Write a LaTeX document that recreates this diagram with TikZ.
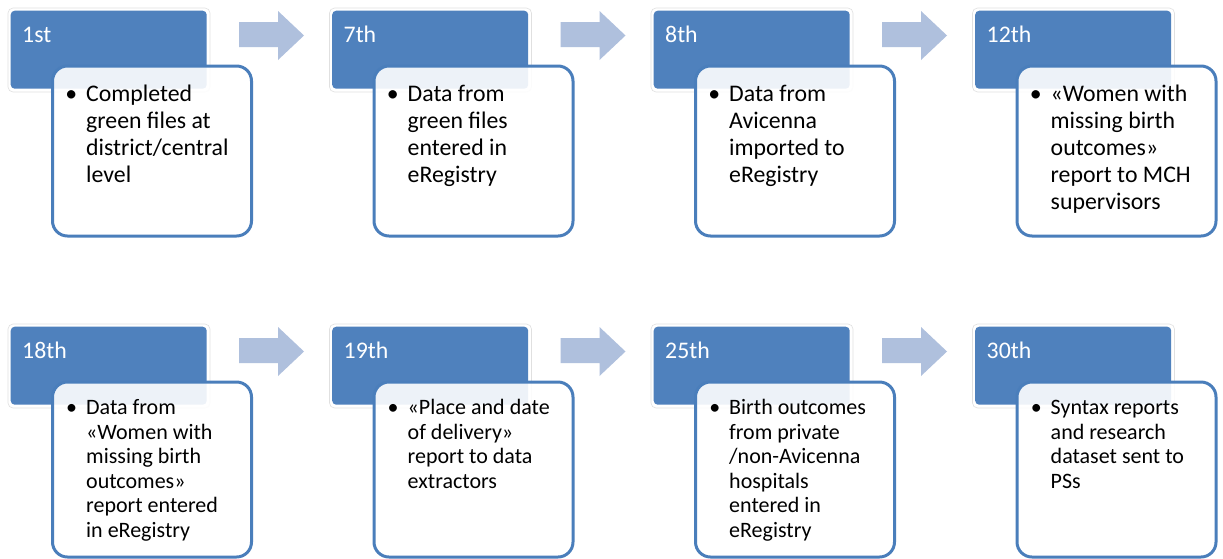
\documentclass[tikz,border=0pt]{standalone}
\usepackage{fontspec}
\setmainfont{Carlito}
\definecolor{hdr}{HTML}{4F81BD}
\definecolor{bord}{HTML}{4A7EBB}
\definecolor{arr}{HTML}{AFC0DD}
\tikzset{
  halo/.style={fill=white, draw=black!12, line width=0.6pt, rounded corners=5pt},
  hdrbox/.style={fill=hdr, draw=none, rounded corners=4pt, inner sep=0pt,
    minimum width=196pt, minimum height=78pt, anchor=north west},
  hdrlabel/.style={text=white, anchor=base west, inner sep=0pt, font=\fontsize{23.8}{27}\selectfont},
  bodybox/.style={fill=white, fill opacity=0.9, draw=bord, draw opacity=1, line width=3pt,
    rounded corners=15pt, inner sep=0pt, minimum width=199pt, anchor=north west},
  bodytext/.style={anchor=north west, align=left, inner sep=0pt, text=black},
  toptext/.style={bodytext, font=\fontsize{23.8}{27}\selectfont},
  bottext/.style={bodytext, font=\fontsize{22}{24.6}\selectfont},
  flowarrow/.style={fill=arr, draw=none},
}
\newcommand\bul{\strut\llap{\textbullet\hspace{9pt}}}
% #1 name, #2 ox, #3 oy, #4 label, #5 text style, #6 text top, #7 box height, #8 text
\newcommand\stage[8]{%
  \draw[halo] (#2+8,#3+8) rectangle (#2+210,#3+92);
  \node[hdrbox] (#1h) at (#2+10.5,#3+10.5) {};
  \node[hdrlabel] (#1l) at (#2+22,#3+42) {#4};
  \node[bodybox, minimum height=#7pt] (#1b) at (#2+51,#3+64.5) {};
  \node[#5] (#1t) at (#2+86,#3+#6) {\bul #8};
}
\newcommand\flowarr[2]{%
  \fill[flowarrow] (#1+239,#2+22) -- (#1+278,#2+22) -- (#1+278,#2+11) -- (#1+304,#2+35.5)
    -- (#1+278,#2+60) -- (#1+278,#2+47) -- (#1+239,#2+47) -- cycle;
}
\begin{document}
\begin{tikzpicture}[x=1pt,y=-1pt]
\useasboundingbox (0,0) rectangle (1223,558);
\fill[white] (0,0) rectangle (1223,558);
% top row
\stage{a}{0}{0}{1st}{toptext}{82}{170}{Completed\\green files at\\district/central\\level}
\stage{b}{321.5}{0}{7th}{toptext}{82}{170}{Data from\\green files\\entered in\\eRegistry}
\stage{c}{643}{0}{8th}{toptext}{82}{170}{Data from\\Avicenna\\imported to\\eRegistry}
\stage{d}{964.5}{0}{12th}{toptext}{82}{170}{«Women with\\missing birth\\outcomes»\\report to MCH\\supervisors}
\flowarr{0}{0}
\flowarr{321.5}{0}
\flowarr{643}{0}
% bottom row
\stage{e}{0}{316}{18th}{bottext}{81}{175}{Data from\\«Women with\\missing birth\\outcomes»\\report entered\\in eRegistry}
\stage{f}{321.5}{316}{19th}{bottext}{81}{175}{«Place and date\\of delivery»\\report to data\\extractors}
\stage{g}{643}{316}{25th}{bottext}{81}{175}{Birth outcomes\\from private\\/non-Avicenna\\hospitals\\entered in\\eRegistry}
\stage{h}{964.5}{316}{30th}{bottext}{81}{175}{Syntax reports\\and research\\dataset sent to\\PSs}
\flowarr{0}{316}
\flowarr{321.5}{316}
\flowarr{643}{316}
\end{tikzpicture}
\end{document}
